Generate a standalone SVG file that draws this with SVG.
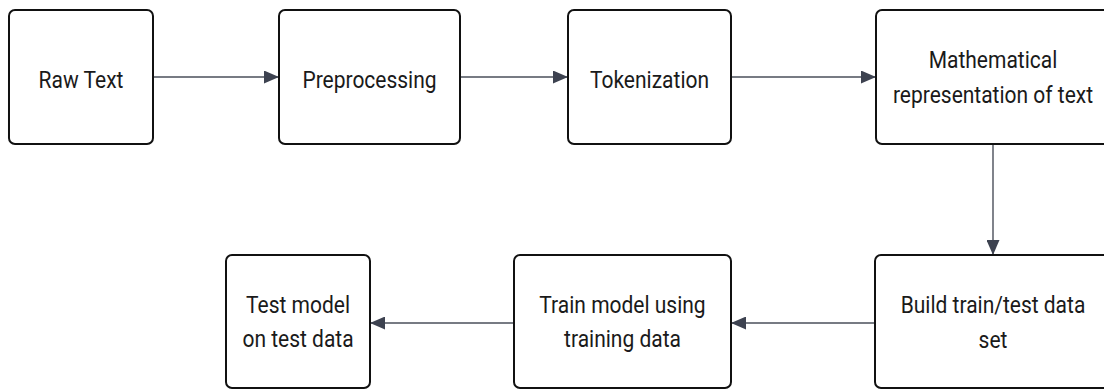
<svg xmlns="http://www.w3.org/2000/svg" width="1104" height="390" viewBox="0 0 1104 390">
  <style>
    .box { fill: #ffffff; stroke: #111111; stroke-width: 2; }
    .label { font-family: Roboto, "Liberation Sans", sans-serif; font-size: 24px; fill: #1a1a1a; text-anchor: middle; }
    .edge { fill: none; stroke: #4a4f5a; stroke-width: 1.4; marker-end: url(#arrow); }
  </style>
  <defs>
    <marker id="arrow" markerUnits="userSpaceOnUse" markerWidth="15" markerHeight="13" refX="15" refY="6.5" orient="auto">
      <path d="M0,0 L15,6.5 L0,13 Z" fill="#3d4250"/>
    </marker>
  </defs>
  <rect width="1104" height="390" fill="#ffffff"/>

  <g id="connectors">
    <line class="edge" x1="153" y1="77" x2="279" y2="77"/>
    <line class="edge" x1="460" y1="77" x2="568" y2="77"/>
    <line class="edge" x1="731" y1="77" x2="876" y2="77"/>
    <line class="edge" x1="993" y1="144" x2="993" y2="255"/>
    <line class="edge" x1="875" y1="323" x2="731" y2="323"/>
    <line class="edge" x1="514" y1="323" x2="370" y2="323"/>
  </g>

  <!-- labels are set slightly narrow: translate to the centre, then squeeze horizontally -->
  <g id="raw-text">
    <rect class="box" x="9" y="10" width="144" height="134" rx="6"/>
    <text class="label" transform="translate(81,88) scale(0.875,1)">Raw Text</text>
  </g>
  <g id="preprocessing">
    <rect class="box" x="279" y="10" width="181" height="134" rx="6"/>
    <text class="label" transform="translate(369.5,88) scale(0.875,1)">Preprocessing</text>
  </g>
  <g id="tokenization">
    <rect class="box" x="568" y="10" width="163" height="134" rx="6"/>
    <text class="label" transform="translate(649.5,88) scale(0.875,1)">Tokenization</text>
  </g>
  <g id="math-representation">
    <rect class="box" x="876" y="10" width="234" height="134" rx="6"/>
    <text class="label" transform="translate(993,68) scale(0.875,1)">Mathematical</text>
    <text class="label" transform="translate(993,103) scale(0.875,1)">representation of text</text>
  </g>
  <g id="build-dataset">
    <rect class="box" x="875" y="255" width="235" height="133" rx="6"/>
    <text class="label" transform="translate(993,313) scale(0.875,1)">Build train/test data</text>
    <text class="label" transform="translate(993,348) scale(0.875,1)">set</text>
  </g>
  <g id="train-model">
    <rect class="box" x="514" y="255" width="217" height="133" rx="6"/>
    <text class="label" transform="translate(622.5,313) scale(0.875,1)">Train model using</text>
    <text class="label" transform="translate(622.5,347) scale(0.875,1)">training data</text>
  </g>
  <g id="test-model">
    <rect class="box" x="226" y="255" width="144" height="133" rx="6"/>
    <text class="label" transform="translate(298,313) scale(0.875,1)">Test model</text>
    <text class="label" transform="translate(298,347) scale(0.875,1)">on test data</text>
  </g>
</svg>
